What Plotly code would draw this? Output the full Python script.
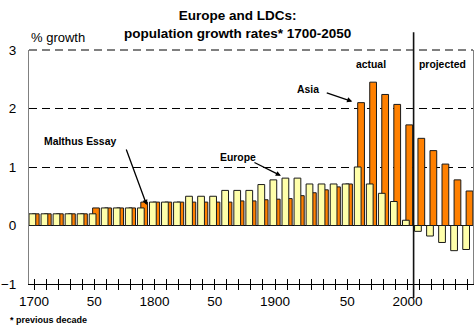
import plotly.graph_objects as go

# Decade end-points (growth over the previous decade)
periods = [1700, 1710, 1720, 1730, 1740, 1750, 1760, 1770, 1780, 1790,
           1800, 1810, 1820, 1830, 1840, 1850, 1860, 1870, 1880, 1890,
           1900, 1910, 1913, 1920, 1930, 1940, 1950,
           1960, 1970, 1980, 1990, 2000,
           2010, 2020, 2030, 2040, 2050]

# Annual population growth, %
europe = [0.2, 0.2, 0.2, 0.2, 0.2, 0.2, 0.3, 0.3, 0.3, 0.3,
          0.4, 0.4, 0.4, 0.5, 0.5, 0.5, 0.6, 0.6, 0.6, 0.7,
          0.78, 0.81, 0.81, 0.71, 0.71, 0.71, 0.71,
          1.0, 0.71, 0.55, 0.41, 0.09,
          -0.1, -0.18, -0.29, -0.43, -0.41]
asia = [0.2, 0.2, 0.2, 0.2, 0.2, 0.3, 0.3, 0.3, 0.3, 0.4,
        0.4, 0.4, 0.4, 0.4, 0.4, 0.4, 0.4, 0.42, 0.42, 0.44,
        0.45, 0.46, 0.51, 0.56, 0.61, 0.66, 0.71,
        2.1, 2.45, 2.24, 2.07, 1.72,
        1.49, 1.28, 1.05, 0.78, 0.59]

last_actual = 2000
y_ticks = [-1, 0, 1, 2, 3]

x = list(range(len(periods)))


def tick_label(year):
    if year % 100 == 0:
        return str(year)
    if year % 100 == 50:
        return "50"
    return ""


tick_text = [tick_label(p) for p in periods]

BAR_W = 0.56
EU_OFF = -0.42
AS_OFF = EU_OFF + 0.28
x_min = EU_OFF
x_max = len(periods) - 1 + AS_OFF + BAR_W + 0.01

FONT = "Arial, Liberation Sans, sans-serif"
GRID_DASH = "8px,5px"

fig = go.Figure()
fig.add_trace(go.Bar(
    x=x, y=asia, name="Asia", width=BAR_W, offset=AS_OFF,
    marker=dict(color="#FF8000", line=dict(color="#1a1a1a", width=1)),
))
fig.add_trace(go.Bar(
    x=x, y=europe, name="Europe", width=BAR_W, offset=EU_OFF,
    marker=dict(color="#FFFFAA", line=dict(color="#1a1a1a", width=1)),
))
# Empty trace so the second (inside-tick) x axis is drawn
fig.add_trace(go.Scatter(x=[], y=[], xaxis="x2", yaxis="y",
                         showlegend=False, hoverinfo="skip"))

fig.update_layout(
    width=475, height=334,
    margin=dict(l=28, r=1, t=50, b=50),
    paper_bgcolor="white", plot_bgcolor="white",
    barmode="overlay",
    showlegend=False,
    font=dict(family=FONT, size=13, color="black"),
    xaxis=dict(
        range=[x_min, x_max],
        tickmode="array", tickvals=x, ticktext=tick_text,
        ticks="outside", ticklen=5, tickwidth=1, tickcolor="black",
        showline=True, linecolor="black", linewidth=1,
        showgrid=False, zeroline=False,
        tickfont=dict(size=13.5),
    ),
    xaxis2=dict(
        range=[x_min, x_max], overlaying="x", anchor="y", side="bottom",
        tickmode="array", tickvals=x, ticktext=[""] * len(x),
        ticks="inside", ticklen=5, tickwidth=1, tickcolor="black",
        showline=False, showgrid=False, zeroline=False,
    ),
    yaxis=dict(
        range=[-1, 3], tickmode="array", tickvals=y_ticks,
        ticks="outside", ticklen=9, tickcolor="rgba(0,0,0,0)",
        showline=True, linecolor="#808080", linewidth=1, mirror=True,
        showgrid=True, gridcolor="black", gridwidth=1, griddash=GRID_DASH,
        zeroline=True, zerolinecolor="black", zerolinewidth=1,
        tickfont=dict(size=13.5),
    ),
)

# Dashed top gridline (at the upper end of the value range)
fig.add_shape(type="line", xref="x domain", yref="y domain",
              x0=0, x1=1, y0=1, y1=1,
              line=dict(color="black", width=1, dash=GRID_DASH))

# Divider between actual and projected decades
n_actual = sum(1 for p in periods if p <= last_actual)
split = n_actual - 0.5
split_frac = (split - x_min) / (x_max - x_min)
fig.add_shape(
    type="line", xref="x domain", yref="y domain",
    x0=split_frac, x1=split_frac, y0=-0.06, y1=1.076,
    line=dict(color="#111111", width=1.6),
)

# Title (two lines, centred on the page)
fig.add_annotation(
    text="<b>Europe and LDCs:<br>population growth rates* 1700-2050</b>",
    xref="paper", yref="paper", x=(237.5 - 28) / 446, y=1,
    xanchor="center", yanchor="middle", yshift=25.5,
    showarrow=False, font=dict(family=FONT, size=13.5, color="black"),
)

bold = dict(family=FONT, size=10.4, color="black")

fig.add_annotation(text="% growth", xref="paper", yref="paper", x=0, y=1,
                   xanchor="left", yanchor="middle", yshift=13,
                   showarrow=False, font=dict(family=FONT, size=13))
fig.add_annotation(text="<b>* previous decade</b>", xref="paper", yref="paper",
                   x=0, y=0, xshift=-21, yshift=-36, xanchor="left",
                   yanchor="middle", showarrow=False,
                   font=dict(family=FONT, size=9, color="black"))

# Labels
fig.add_annotation(text="<b>Malthus Essay</b>", x=3.79, y=1.43,
                   showarrow=False, font=bold)
fig.add_annotation(text="<b>Europe</b>", x=16.94, y=1.16,
                   showarrow=False, font=bold)
fig.add_annotation(text="<b>Asia</b>", x=22.76, y=2.32,
                   showarrow=False, font=bold)
fig.add_annotation(text="<b>actual</b>", x=27.98, y=2.76,
                   showarrow=False, font=bold)
fig.add_annotation(text="<b>projected</b>", x=31.75, y=2.76,
                   xanchor="left", showarrow=False, font=bold)

# Pointer arrows
arrow = dict(text="", showarrow=True, arrowhead=2, arrowsize=0.8,
             arrowwidth=1.3, arrowcolor="black", standoff=0, startstandoff=0)
fig.add_annotation(x=9.35, y=0.35, ax=-21, ay=-57, **arrow)
fig.add_annotation(x=20.49, y=0.85, ax=-28, ay=-14, **arrow)
fig.add_annotation(x=26.41, y=2.12, ax=-27, ay=-9, **arrow)

fig.write_html("out.html")
